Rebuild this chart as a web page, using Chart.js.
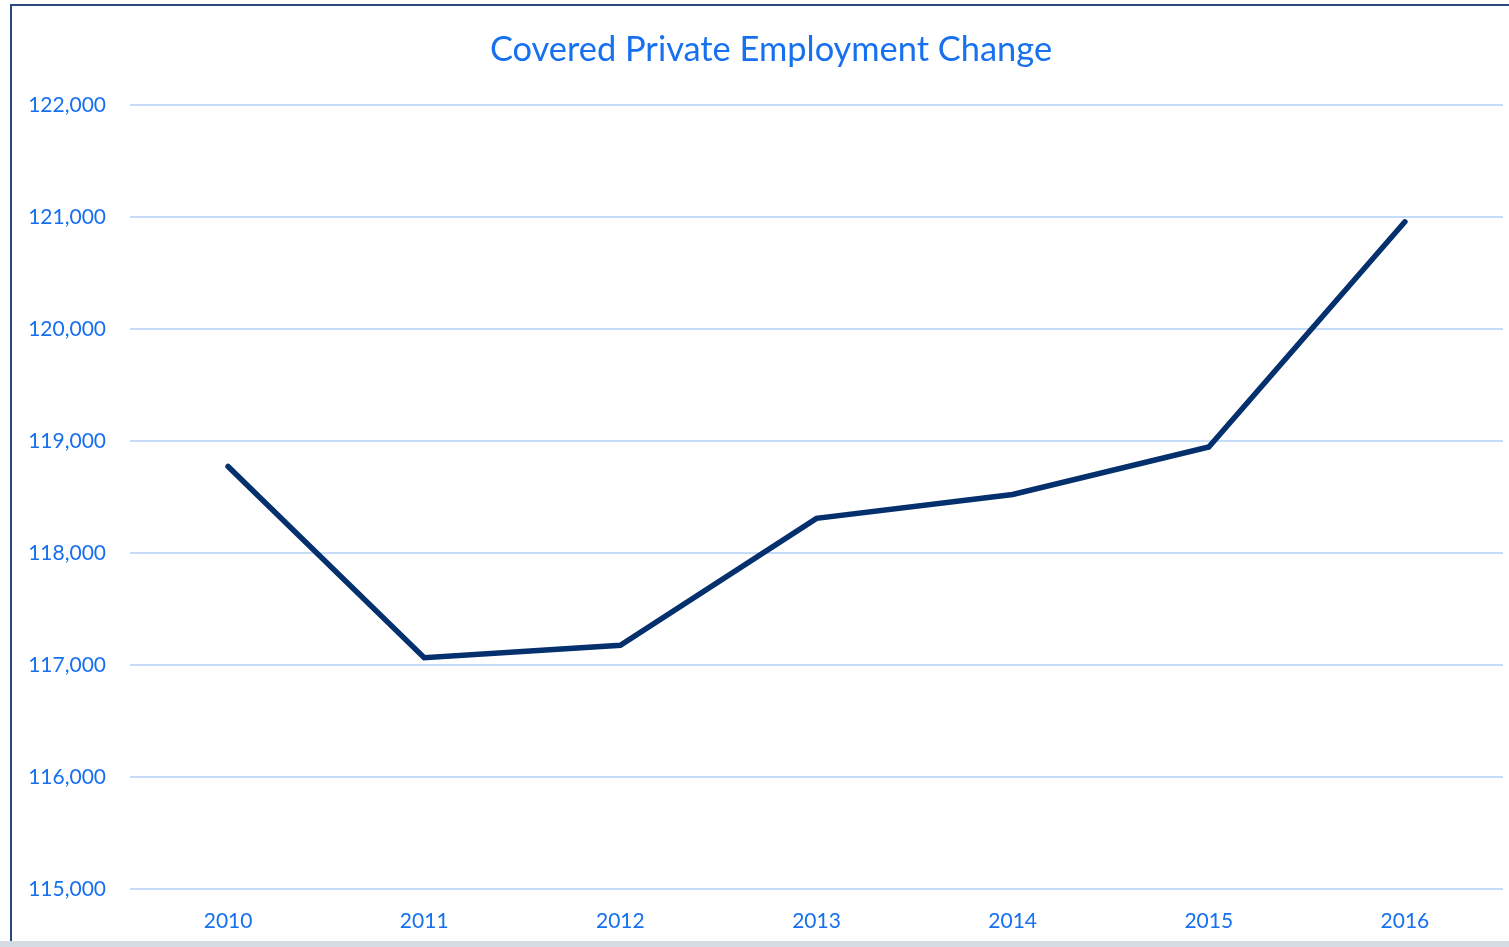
<!DOCTYPE html>
<html>
<head>
<meta charset="utf-8">
<script src="https://cdn.jsdelivr.net/npm/chart.js@4/dist/chart.umd.min.js"></script>
<style>
  html, body { margin: 0; padding: 0; background: #ffffff; }
  body { width: 1509px; height: 947px; position: relative; overflow: hidden; }
  #frame {
    position: absolute; left: 10px; top: 4px; width: 1499px; height: 937px;
    border-left: 2px solid #2a4a7f; border-top: 2px solid #2a4a7f;
    box-sizing: border-box; background: #ffffff;
  }
  #strip { position: absolute; left: 0; top: 941px; width: 1509px; height: 6px; background: #d6dce4; }
  #wrap { position: absolute; left: 12px; top: 6px; width: 1497px; height: 935px; }
  #title {
    position: absolute; left: 471px; top: 27px; width: 600px;
    text-align: center; white-space: nowrap;
    font-family: Lato, "Open Sans", sans-serif; font-size: 34.4px; line-height: 41px;
    color: #1670ef;
  }
</style>
</head>
<body>
<div id="frame"></div>
<div id="wrap"><canvas id="c"></canvas></div>
<div id="title">Covered Private Employment Change</div>
<div id="strip"></div>
<script>
// Covered private employment, annual totals
const years = ['2010', '2011', '2012', '2013', '2014', '2015', '2016'];
const employment = [118772, 117065, 117176, 118309, 118523, 118947, 120957];
const yTicks = [115000, 116000, 117000, 118000, 119000, 120000, 121000, 122000];

const blue = '#1670ef';
const fontFamily = 'Lato, "Open Sans", sans-serif';

new Chart(document.getElementById('c'), {
  type: 'line',
  data: {
    labels: years,
    datasets: [{
      label: 'Covered Private Employment',
      data: employment,
      borderColor: '#04306d',
      borderWidth: 5.5,
      pointRadius: 0,
      pointHoverRadius: 0,
      tension: 0,
      borderCapStyle: 'round',
      borderJoinStyle: 'miter',
      fill: false
    }]
  },
  options: {
    responsive: true,
    maintainAspectRatio: false,
    animation: false,
    // the heading sits in the top padding, above the plot
    layout: { padding: { left: 0, right: 6, top: 99, bottom: 0 } },
    plugins: {
      legend: { display: false },
      tooltip: { enabled: false },
      title: { display: false }
    },
    scales: {
      x: {
        offset: true,
        grid: { display: false, drawTicks: false },
        border: { display: false },
        ticks: {
          color: blue,
          font: { family: fontFamily, size: 21 },
          padding: 20,
          maxRotation: 0
        },
        afterFit: (s) => { s.height = 52; }
      },
      y: {
        min: yTicks[0],
        max: yTicks[yTicks.length - 1],
        afterBuildTicks: (s) => { s.ticks = yTicks.map(v => ({ value: v })); },
        grid: { color: '#c4dcf8', lineWidth: 2, drawTicks: false },
        border: { display: false },
        ticks: {
          color: blue,
          font: { family: fontFamily, size: 21 },
          padding: 24,
          callback: (v) => Number(v).toLocaleString('en-US')
        },
        afterFit: (s) => { s.width = 118; }
      }
    }
  }
});
</script>
</body>
</html>
